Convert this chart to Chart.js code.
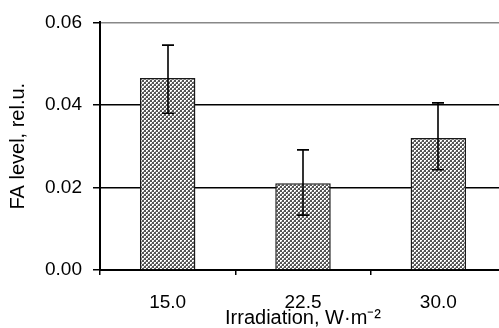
<!DOCTYPE html>
<html>
<head>
<meta charset="utf-8">
<script src="https://cdn.jsdelivr.net/npm/chart.js@4"></script>
<style>
  html, body { margin: 0; padding: 0; background: #fff; overflow: hidden; }
  #wrap { width: 506px; height: 328px; }
</style>
</head>
<body>
<div id="wrap"><canvas id="faChart" width="506" height="328"></canvas></div>
<script>
// data
const categories = ['15.0', '22.5', '30.0'];
const faLevel = [0.0465, 0.0210, 0.0320];
const errHigh = [0.0545, 0.0291, 0.0405];
const errLow = [0.0380, 0.0133, 0.0243];
const yTicks = [0, 0.02, 0.04, 0.06];

// dotted grey fill like the original print
function makePattern() {
    const c = document.createElement('canvas');
    c.width = 4; c.height = 4;
    const g = c.getContext('2d');
    g.fillStyle = '#555555';
    g.fillRect(0, 0, 4, 4);
    g.fillStyle = '#ffffff';
    g.fillRect(0, 0, 2, 2); g.fillRect(2, 2, 2, 2);
    g.fillStyle = '#a8a8a8';
    g.fillRect(1, 1, 1, 1); g.fillRect(3, 3, 1, 1);
    return g.createPattern(c, 'repeat');
}

const errorBars = {
    id: 'errorBars',
    afterDatasetsDraw(chart) {
        const ctx = chart.ctx;
        const xs = chart.scales.x, ys = chart.scales.y;
        ctx.save();
        ctx.strokeStyle = '#000';
        ctx.lineWidth = 1.6;
        categories.forEach((c, i) => {
            const x = Math.round(xs.getPixelForValue(i));
            const yh = ys.getPixelForValue(errHigh[i]);
            const yl = ys.getPixelForValue(errLow[i]);
            ctx.beginPath();
            ctx.moveTo(x, yh); ctx.lineTo(x, yl);
            ctx.moveTo(x - 6, yh); ctx.lineTo(x + 6, yh);
            ctx.moveTo(x - 6, yl); ctx.lineTo(x + 6, yl);
            ctx.stroke();
        });
        ctx.restore();
    }
};

const fam = 'Arial, "Liberation Sans", sans-serif';
const tickFont = { family: fam, size: 19 };
const titleFont = { family: fam, size: 20, lineHeight: 1 };

new Chart(document.getElementById('faChart'), {
    type: 'bar',
    data: {
        labels: categories,
        datasets: [{
            data: faLevel,
            backgroundColor: makePattern(),
            borderColor: '#1a1a1a',
            borderWidth: 1.5,
            barPercentage: 0.41,
            categoryPercentage: 1
        }]
    },
    options: {
        responsive: false,
        animation: false,
        layout: { padding: { top: 21, left: 0, right: 0, bottom: 0 } },
        plugins: { legend: { display: false }, tooltip: { enabled: false } },
        scales: {
            x: {
                offset: true,
                grid: { offset: true, drawOnChartArea: false, tickLength: 5, color: '#000', lineWidth: 1.5 },
                border: { color: '#000', width: 2 },
                ticks: { color: '#000', font: tickFont, padding: 16 },
                title: { display: true, text: 'Irradiation, W·m⁻²', color: '#000', font: titleFont, padding: { top: 0, bottom: 0 } },
                afterFit(s) { s.height = 58; }
            },
            y: {
                min: 0, max: 0.06,
                afterBuildTicks(s) { s.ticks = yTicks.map(v => ({ value: v })); },
                grid: {
                    color: c => (c.tick && c.tick.value === 0.06 ? '#888' : '#000'),
                    tickColor: '#000',
                    lineWidth: 1.5,
                    tickLength: 7
                },
                border: { color: '#000', width: 2 },
                ticks: { color: '#000', font: tickFont, padding: 11, callback: v => v.toFixed(2) },
                title: { display: true, text: 'FA level, rel.u.', color: '#000', font: titleFont, padding: { top: 8, bottom: 0 } },
                afterFit(s) { s.width = 100; }
            }
        }
    },
    plugins: [errorBars]
});
</script>
</body>
</html>
